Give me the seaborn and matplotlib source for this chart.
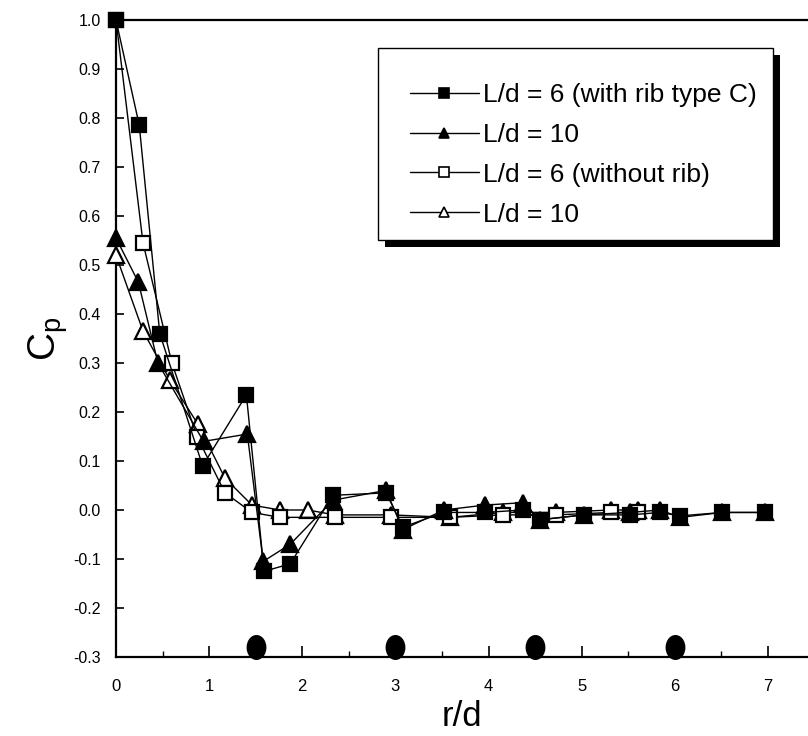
import numpy as np
import pandas as pd
import matplotlib
matplotlib.use("Agg")
import matplotlib.pyplot as plt
from matplotlib.lines import Line2D
from matplotlib.patches import Rectangle
from matplotlib.markers import MarkerStyle
from matplotlib.transforms import Affine2D
import seaborn as sns

# ---- data: pressure coefficient along the impingement plate ----
rib6_x = [0, 0.25, 0.47, 0.93, 1.40, 1.59, 1.87, 2.33, 2.90, 3.08, 3.52, 3.96,
          4.37, 4.55, 5.02, 5.52, 5.84, 6.06, 6.51, 6.97]
rib6_cp = [1.0, 0.785, 0.36, 0.09, 0.235, -0.125, -0.11, 0.03, 0.035, -0.035,
           -0.005, -0.005, 0.0, -0.02, -0.01, -0.01, -0.005, -0.012, -0.005, -0.005]

rib10_x = [0, 0.24, 0.45, 0.94, 1.41, 1.58, 1.87, 2.33, 2.90, 3.08, 3.52, 3.96,
           4.37, 4.55, 5.02, 5.52, 5.84, 6.06, 6.51, 6.97]
rib10_cp = [0.555, 0.465, 0.30, 0.14, 0.155, -0.105, -0.07, 0.02, 0.04, -0.04,
            0.0, 0.01, 0.015, -0.02, -0.01, -0.005, 0.0, -0.015, -0.005, -0.005]

plain6_x = [0, 0.29, 0.60, 0.87, 1.17, 1.46, 1.76, 2.35, 2.95, 3.59, 4.15,
            4.72, 5.31, 5.61]
plain6_cp = [1.0, 0.545, 0.30, 0.15, 0.035, -0.005, -0.015, -0.015, -0.015,
             -0.015, -0.01, -0.01, -0.005, -0.005]

plain10_x = [0, 0.29, 0.58, 0.88, 1.17, 1.46, 1.76, 2.06, 2.35, 2.95, 3.59,
             4.15, 4.72, 5.31, 5.61]
plain10_cp = [0.52, 0.365, 0.265, 0.175, 0.065, 0.01, 0.0, 0.0, -0.01, -0.01,
              -0.015, -0.005, -0.005, 0.0, 0.0]

# rib locations along the plate
rib_pos_x = [1.5, 3.0, 4.5, 6.0]
rib_pos_y = [-0.28, -0.28, -0.28, -0.28]

labels = ["L/d = 6 (with rib type C)", "L/d = 10",
          "L/d = 6 (without rib)", "L/d = 10"]
y_ticks = [-0.3, -0.2, -0.1, 0.0, 0.1, 0.2, 0.3, 0.4, 0.5, 0.6, 0.7, 0.8, 0.9, 1.0]
x_ticks = [0, 1, 2, 3, 4, 5, 6, 7]

sns.set_theme(style="white")
plt.rcParams["font.family"] = ["Liberation Sans", "DejaVu Sans"]
plt.rcParams["text.color"] = "black"
plt.rcParams["axes.labelcolor"] = "black"

fig = plt.figure(figsize=(8.08, 7.36), dpi=100)
W, H = 808, 736
ax = fig.add_axes([116 / W, (H - 657) / H, (W - 116) / W, (657 - 20) / H])

series = [
    (rib6_x, rib6_cp, "s", "black", 10),
    (rib10_x, rib10_cp, "^", "black", 11),
    (plain6_x, plain6_cp, "s", "white", 10),
    (plain10_x, plain10_cp, "^", "white", 11),
]
for i, (xs, ys, mk, fc, ms) in enumerate(series):
    df = pd.DataFrame({"r/d": xs, "Cp": ys})
    sns.lineplot(data=df, x="r/d", y="Cp", ax=ax, estimator=None, sort=False,
                 color="black", linewidth=1.0, marker=mk, markersize=ms,
                 markerfacecolor=fc, markeredgecolor="black",
                 markeredgewidth=1.6, zorder=3 + (3 - i), clip_on=False)

# rib markers sitting on the plate
oval = MarkerStyle("o", transform=Affine2D().scale(0.78, 1.0))
ax.plot(rib_pos_x, rib_pos_y, linestyle="none", marker=oval, markersize=17,
        color="black", clip_on=False, zorder=10)

ax.set_xlim(0, 7.43)
ax.set_ylim(-0.3, 1.0)
ax.set_yticks(y_ticks)
ax.set_yticklabels([f"{v:.1f}" for v in y_ticks])
ax.set_xticks(x_ticks)
ax.set_xticks(np.arange(0.5, 7.5, 1.0), minor=True)
ax.tick_params(axis="y", direction="in", length=6, width=1.2, pad=11,
               labelsize=11.5, left=True, colors="black")
ax.tick_params(axis="x", which="major", direction="in", length=8, width=1.2,
               pad=16, labelsize=12, bottom=True, colors="black")
ax.tick_params(axis="x", which="minor", direction="in", length=4, width=1.0,
               bottom=True, colors="black")

for side in ["left", "bottom", "top"]:
    ax.spines[side].set_visible(True)
    ax.spines[side].set_color("black")
    ax.spines[side].set_linewidth(1.6)
ax.spines["right"].set_visible(False)
ax.grid(False)

ax.set_xlabel("r/d", fontsize=25, labelpad=4, color="black")
ax.set_ylabel(r"C$_\mathregular{p}$", fontsize=28, labelpad=2, color="black")

# legend box with a solid drop shadow (pixel geometry of the frame)
box_l, box_t, box_r, box_b = 378, 48, 773, 240
shadow = Rectangle((box_l + 7, H - box_b - 7), box_r - box_l, box_b - box_t,
                   transform=None, facecolor="black", edgecolor="none", zorder=18)
frame = Rectangle((box_l, H - box_b), box_r - box_l, box_b - box_t,
                  transform=None, facecolor="white", edgecolor="black",
                  linewidth=1.0, zorder=19)
fig.add_artist(shadow)
fig.add_artist(frame)

handles = [Line2D([], [], color="black", linewidth=1.0, marker=mk, markersize=7.5,
                  markerfacecolor=fc, markeredgecolor="black", markeredgewidth=1.2)
           for (_, _, mk, fc, _) in series]
leg = ax.legend(handles, labels, loc="upper left",
                bbox_to_anchor=(410 / W, 1 - 83 / H),
                bbox_transform=fig.transFigure, fontsize=19, frameon=False,
                handlelength=2.6, handletextpad=0.15, labelspacing=0.6,
                borderpad=0, borderaxespad=0, labelcolor="black")
leg.remove()
leg.set_zorder(20)
fig.add_artist(leg)

fig.savefig("out.png", dpi=100)
